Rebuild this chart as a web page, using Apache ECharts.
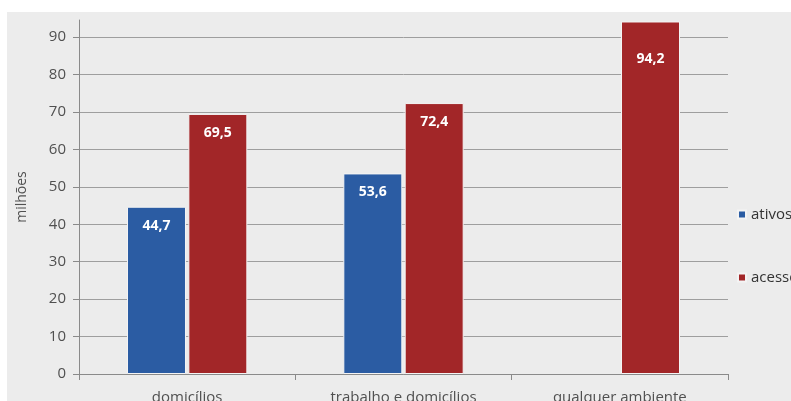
<!DOCTYPE html>
<html><head><meta charset="utf-8">
<script src="https://cdn.jsdelivr.net/npm/echarts@6/dist/echarts.min.js"></script>
<style>html,body{margin:0;padding:0;background:#fff}#c{width:791px;height:401px}</style>
</head><body><div id="c"></div>
<script>
const categories = ['domicílios', 'trabalho e domicílios', 'qualquer ambiente'];
const ativos = [44.7, 53.6, null];
const acessos = [69.5, 72.4, 94.2];
const yTicks = [0, 10, 20, 30, 40, 50, 60, 70, 80, 90];

const chart = echarts.init(document.getElementById('c'));
const fmt = p => p.value == null ? '' : String(p.value).replace('.', ',');
const gridColors = yTicks.map(() => '#9e9e9e').concat(['#ececec']);
const labelStyle = { show: true, position: 'insideTop', distance: 12, color: '#fff', fontWeight: 'bold', fontSize: 14, formatter: fmt };
const acessosData = acessos.map((v, i) => i === 2 ? { value: v, label: { distance: 31 } } : v);
chart.setOption({
  animation: false,
  textStyle: { fontFamily: 'Open Sans' },
  graphic: [{ type: 'rect', z: -10, shape: { x: 7, y: 12, width: 784, height: 389 }, style: { fill: '#ececec' } }],
  grid: { left: 79, right: 63, top: 20, bottom: 27, containLabel: false, outerBoundsMode: 'none' },
  legend: {
    orient: 'vertical', left: 732, top: 202, itemGap: 48,
    itemWidth: 8, itemHeight: 8, icon: 'rect',
    textStyle: { fontSize: 15, color: '#333', fontFamily: 'Open Sans' },
    data: ['ativos', 'acessos']
  },
  xAxis: {
    type: 'category', data: categories,
    axisLine: { lineStyle: { color: '#8a8a8a', width: 1 } },
    axisTick: { show: true, alignWithLabel: false, length: 6, lineStyle: { color: '#8a8a8a' } },
    axisLabel: { fontSize: 15, color: '#505050', margin: 16 }
  },
  yAxis: {
    type: 'value', min: 0, max: 94.6, interval: 10,
    name: 'milhões', nameLocation: 'middle', nameRotate: 90, nameGap: 50,
    nameTextStyle: { fontSize: 14, color: '#505050' },
    axisLine: { show: true, lineStyle: { color: '#8a8a8a' } },
    axisTick: { show: true, length: 6, lineStyle: { color: '#8a8a8a' } },
    axisLabel: { fontSize: 15, color: '#505050', margin: 13, showMaxLabel: false,
      formatter: v => yTicks.includes(v) ? String(v) : '' },
    splitLine: { show: true, lineStyle: { color: gridColors, width: 1 } }
  },
  series: [
    { name: 'ativos', type: 'bar', data: ativos, barWidth: 59, barGap: '4%',
      itemStyle: { color: '#2b5ca3', borderColor: '#f4f4f4', borderWidth: 1 },
      label: labelStyle },
    { name: 'acessos', type: 'bar', data: acessosData, barWidth: 59, clip: false,
      itemStyle: { color: '#a22628', borderColor: '#f4f4f4', borderWidth: 1 },
      label: labelStyle }
  ]
});
</script></body></html>
